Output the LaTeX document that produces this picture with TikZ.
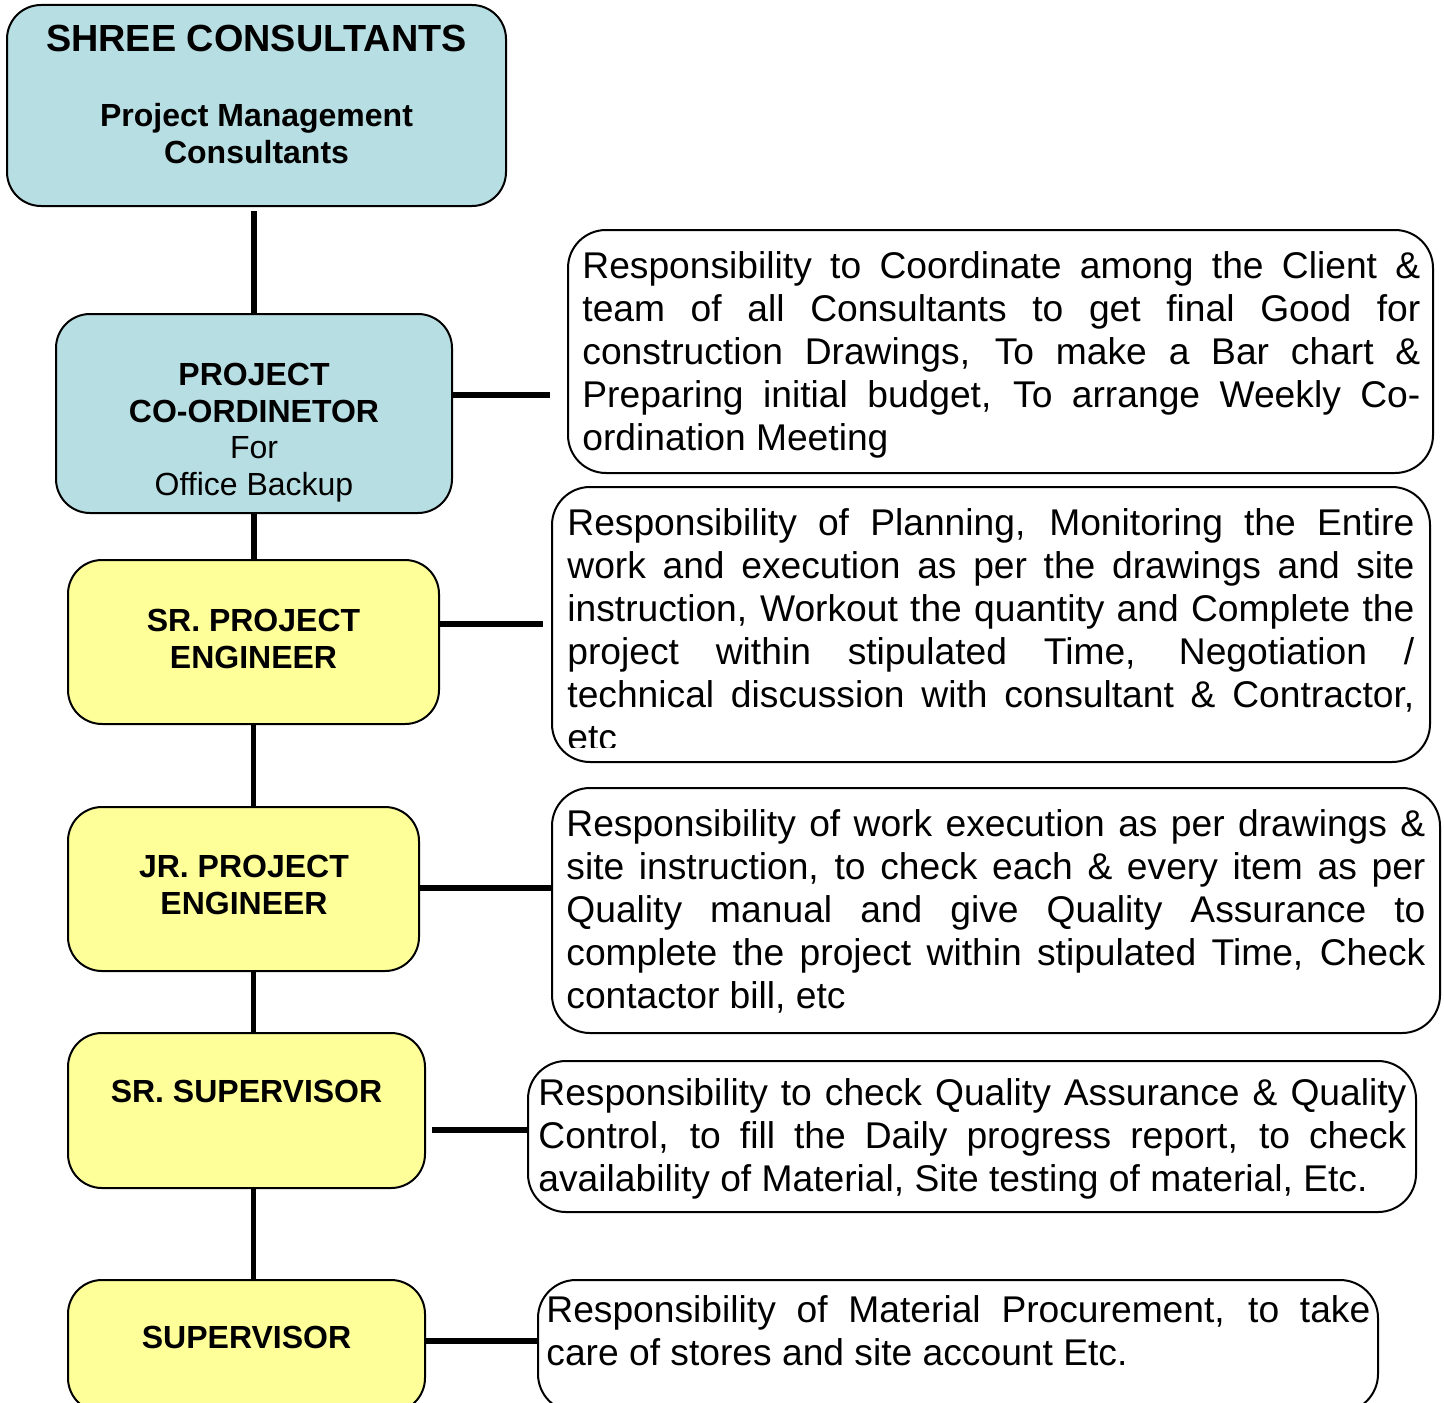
\documentclass[tikz,border=0pt]{standalone}
\usepackage{fontspec}
\setmainfont{Liberation Sans}
\usetikzlibrary{fit}
\definecolor{boxcyan}{RGB}{183,222,226}
\definecolor{boxyellow}{RGB}{255,255,153}
\newcommand{\rw}{400pt}
\newcommand{\jl}[1]{\makebox[\rw][s]{\spaceskip=0pt\xspaceskip=0pt #1}\\}
\begin{document}
\begin{tikzpicture}[x=0.5pt,y=-0.5pt,
  box/.style={draw=black, line width=1pt, rounded corners=17pt, inner sep=0pt},
  cyanbox/.style={box, fill=boxcyan},
  yelbox/.style={box, fill=boxyellow},
  respbox/.style={box, fill=white, rounded corners=19pt},
  conn/.style={line width=2.8pt},
  lbl/.style={font=\fontsize{16pt}{18.2pt}\selectfont\bfseries, align=center, inner sep=0pt, anchor=base},
  resp/.style={font=\fontsize{18.6pt}{21.5pt}\selectfont, align=justify, inner sep=0pt, anchor=base west},
]
\useasboundingbox (0,0) rectangle (1444,1402);

% left boxes
\node[cyanbox, fit={(7,5) (506,206)}] (top) {};
\node[cyanbox, fit={(56,314) (452,513)}] (coord) {};
\node[yelbox, fit={(68,560) (439,724)}] (srpe) {};
\node[yelbox, fit={(68,807) (419,971)}] (jrpe) {};
\node[yelbox, fit={(68,1033) (425,1188)}] (srsup) {};
\node[yelbox, fit={(68,1280) (425,1412)}] (sup) {};

% right boxes
\node[respbox, fit={(568,230) (1433,473)}] (resp1) {};
\node[respbox, fit={(552,487) (1430,762)}] (resp2) {};
\node[respbox, fit={(552,788) (1440,1033)}] (resp3) {};
\node[respbox, fit={(528,1061) (1416,1212)}] (resp4) {};
\node[respbox, fit={(538,1280) (1378,1412)}] (resp5) {};

% left labels (base anchor = last line)
\node[lbl, font=\fontsize{18.9pt}{21.5pt}\selectfont\bfseries] (ttitle) at (256.5,52) {SHREE CONSULTANTS};
\node[lbl] (tsub) at (256.5,163) {Project Management\\Consultants};
\node[lbl] (tcoord) at (254,495) {PROJECT\\CO-ORDINETOR\\{\mdseries For}\\{\mdseries Office Backup}};
\node[lbl] (tsrpe) at (253.5,668) {SR. PROJECT\\ENGINEER};
\node[lbl] (tjrpe) at (244,914) {JR. PROJECT\\ENGINEER};
\node[lbl] (tsrsup) at (246.5,1102) {SR. SUPERVISOR};
\node[lbl] (tsup) at (246.5,1348) {SUPERVISOR};

% responsibility texts
\renewcommand{\rw}{419pt}
\node[resp, text width=419pt] (r1) at (582,278) {%
\jl{Responsibility to Coordinate among the Client \&}%
\jl{team of all Consultants to get final Good for}%
\jl{construction Drawings, To make a Bar chart \&}%
\jl{Preparing initial budget, To arrange Weekly Co-}%
ordination Meeting};

\renewcommand{\rw}{423.5pt}
\begin{scope}
\clip (552,487) rectangle (1430,747);
\node[resp, text width=423.5pt] (r2) at (567,535) {%
\jl{Responsibility of Planning, Monitoring the Entire}%
\jl{work and execution as per the drawings and site}%
\jl{instruction, Workout the quantity and Complete the}%
\jl{project within stipulated Time, Negotiation /}%
\jl{technical discussion with consultant \& Contractor,}%
etc};
\end{scope}

\renewcommand{\rw}{429.5pt}
\node[resp, text width=429.5pt] (r3) at (566,836) {%
\jl{Responsibility of work execution as per drawings \&}%
\jl{site instruction, to check each \& every item as per}%
\jl{Quality manual and give Quality Assurance to}%
\jl{complete the project within stipulated Time, Check}%
contactor bill, etc};

\renewcommand{\rw}{434pt}
\node[resp, text width=434pt] (r4) at (538,1105) {%
\jl{Responsibility to check Quality Assurance \& Quality}%
\jl{Control, to fill the Daily progress report, to check}%
availability of Material, Site testing of material, Etc.};

\renewcommand{\rw}{412pt}
\node[resp, text width=412pt] (r5) at (546,1322) {%
\jl{Responsibility of Material Procurement, to take}%
care of stores and site account Etc.};

% vertical connectors
\draw[conn] ([yshift=-2pt]top.south -| coord.north) -- (coord.north);
\draw[conn] (coord.south) -- (coord.south |- srpe.north);
\draw[conn] (srpe.south) -- (srpe.south |- jrpe.north);
\draw[conn] (jrpe.south -| srpe.south) -- (srpe.south |- srsup.north);
\draw[conn] (srsup.south -| srpe.south) -- (srpe.south |- sup.north);

% horizontal connectors
\coordinate (h1) at (550,395);
\draw[conn] (coord.east |- h1) -- (h1);
\coordinate (h2) at (543,624);
\draw[conn] (srpe.east |- h2) -- (h2);
\coordinate (h3) at (500,888);
\draw[conn] (jrpe.east |- h3) -- (resp3.west |- h3);
\coordinate (h4) at (432,1130);
\draw[conn] (h4) -- (resp4.west |- h4);
\coordinate (h5) at (480,1341);
\draw[conn] (sup.east |- h5) -- (resp5.west |- h5);
\end{tikzpicture}
\end{document}
